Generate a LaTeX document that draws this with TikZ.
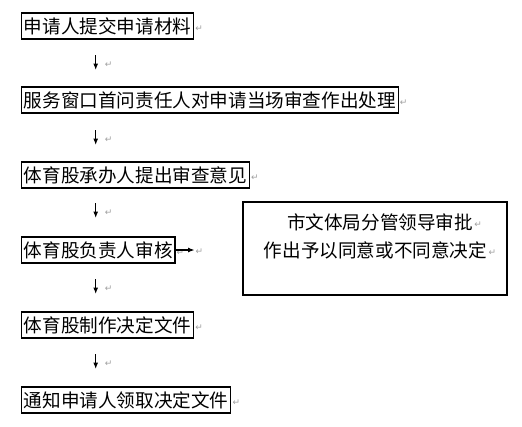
\documentclass[tikz,border=0pt]{standalone}
\usepackage{fontspec}
\setmainfont{Noto Sans CJK SC}
\newfontfamily\markfont{DejaVu Sans}
\usetikzlibrary{arrows.meta}

\begin{document}
\begin{tikzpicture}[x=1pt,y=-1pt,
  stepbox/.style={draw, line width=1.1pt, anchor=west, inner xsep=2.3pt, inner ysep=0pt,
    minimum height=26pt, font=\fontsize{18.6}{22}\selectfont},
  ret/.style={text=gray!75, inner sep=0pt, anchor=west, font=\markfont\fontsize{9}{9}\selectfont},
  arr/.style={-{Latex[length=6.5pt,width=5pt]}, line width=1.1pt}]
\useasboundingbox (0,0) rectangle (522,426);
% steps on the left
\node[stepbox] (b1) at (21,26) {申请人提交申请材料};
\node[stepbox] (b2) at (21,100) {服务窗口首问责任人对申请当场审查作出处理};
\node[stepbox] (b3) at (21,175) {体育股承办人提出审查意见};
\node[stepbox] (b4) at (21,250) {体育股负责人审核};
\node[stepbox] (b5) at (21,325) {体育股制作决定文件};
\node[stepbox] (b6) at (21,400) {通知申请人领取决定文件};
\foreach \n in {b1,b2,b3,b4,b5,b6}
  \node[ret] at ([xshift=1pt,yshift=-3pt]\n.east) {↵};
% arrows between the steps
\foreach \y/\n in {55/a1,130/a2,203/a3,279/a4,354/a5}{
  \coordinate (\n) at (95.7,\y);
  \draw[arr] (\n) -- ++(0,15);
  \node[ret] at ([xshift=9pt,yshift=-10pt]\n) {↵};
}
% leader approval
\node[draw, line width=1.1pt, minimum width=264pt, minimum height=93pt] (b7) at (375,248.5) {};
\node[font=\fontsize{18.6}{22}\selectfont, inner sep=0pt] (t1) at (380,222) {市文体局分管领导审批};
\node[font=\fontsize{18.6}{22}\selectfont, inner sep=0pt] (t2) at (375.5,250) {作出予以同意或不同意决定};
\node[ret] at ([xshift=1pt,yshift=-3pt]t1.east) {↵};
\node[ret] at ([xshift=1pt,yshift=-3pt]t2.east) {↵};
\coordinate (h) at ([xshift=19pt]b4.east);
\draw[arr] (b4.east) -- (h);
\node[ret] at ([xshift=1pt,yshift=-2pt]h) {↵};
\end{tikzpicture}
\end{document}
